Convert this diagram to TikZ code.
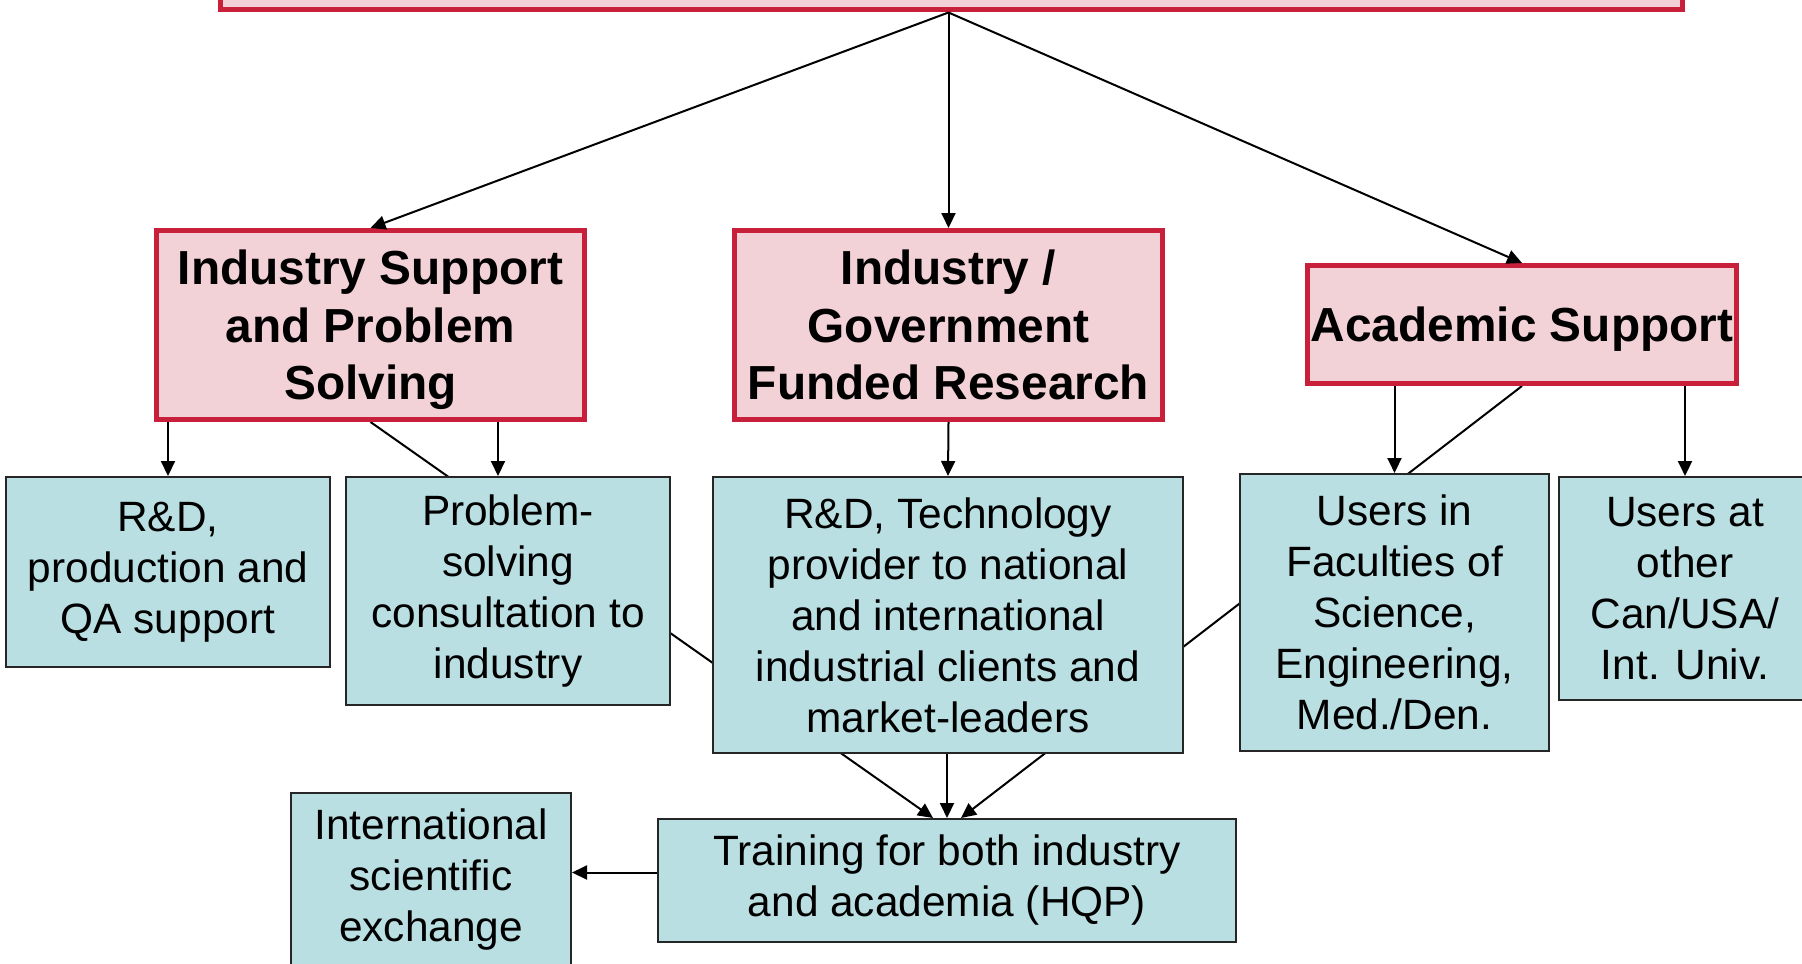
\documentclass[tikz,border=0pt]{standalone}
\usepackage{fontspec}
\setmainfont{Liberation Sans}
\usetikzlibrary{arrows.meta, backgrounds}

\definecolor{boxred}{RGB}{200,32,58}
\definecolor{boxpink}{RGB}{242,209,215}
\definecolor{boxblue}{RGB}{185,223,227}

\begin{document}
\begin{tikzpicture}[x=0.5pt, y=-0.5pt,
    >={Triangle[length=7.5pt, width=7pt]},
    head/.style={draw=boxred, line width=2.5pt, fill=boxpink, inner sep=0pt, align=center,
      text depth=0pt, font=\fontsize{23.9pt}{28.7pt}\selectfont\bfseries},
    leaf/.style={draw=black!85, line width=1pt, fill=boxblue, inner sep=0pt, align=center,
      font=\fontsize{21.2pt}{25.5pt}\selectfont},
    link/.style={line width=1pt}]
  \useasboundingbox (0,0) rectangle (1802,963);
  \clip (0,0) rectangle (1802,963);

  % top level, mostly above the frame
  \node [head, minimum width=731pt, minimum height=55pt] (top) at (951.5, -45) {};

  % second level
  \node [head, minimum width=214pt, minimum height=94.5pt] (isps) at (370.5, 325)
    {Industry Support\\ and Problem\\ Solving};
  \node [head, minimum width=214pt, minimum height=94.5pt] (igfr) at (948.5, 325)
    {Industry /\\ Government\\ Funded Research};
  \node [head, minimum width=214.5pt, minimum height=59pt] (acad) at (1522, 324.5)
    {Academic Support};

  % third level
  \node [leaf, minimum width=162pt, minimum height=95pt] (rdp) at (168, 572)
    {R\&D,\\ production and\\ QA support};
  \node [leaf, minimum width=162pt, minimum height=114pt] (ps) at (508, 591)
    {Problem-\\ solving\\ consultation to\\ industry};
  \node [leaf, minimum width=235pt, minimum height=138pt] (rdt) at (948, 615)
    {R\&D, Technology\\ provider to national\\ and international\\ industrial clients and\\ market-leaders};
  \node [leaf, minimum width=154.5pt, minimum height=138.5pt] (uf) at (1394.5, 612.5)
    {Users in\\ Faculties of\\ Science,\\ Engineering,\\ Med./Den.};
  \node [leaf, minimum width=126pt, minimum height=111.5pt] (uo) at (1685, 588.5)
    {Users at\\ other\\ Can/USA/\\ Int. Univ.};

  % bottom level
  \node [leaf, minimum width=140pt, minimum height=87pt] (is) at (431, 880)
    {International\\ scientific\\ exchange};
  \node [leaf, minimum width=289pt, minimum height=61.5pt] (tr) at (947, 880.5)
    {Training for both industry\\ and academia (HQP)};

  \coordinate (hub) at (igfr.north |- top.south);
  \coordinate (psin) at ([xshift=-5pt]ps.north);
  \coordinate (trin) at ([yshift=4pt]tr.west);

  \draw [->, link] (hub) -- (isps.north);
  \draw [->, link] (hub) -- (igfr.north);
  \draw [->, link] (hub) -- (acad.north);

  \draw [->, link] (isps.south -| rdp.north) -- (rdp.north);
  \draw [->, link] (isps.south -| psin) -- (psin);
  \draw [->, link] (igfr.south) -- (rdt.north);
  \draw [->, link] (acad.south -| uf.north) -- (uf.north);
  \draw [->, link] (acad.south -| uo.north) -- (uo.north);

  \draw [->, link] (rdt.south -| tr.north) -- (tr.north);
  \draw [->, link] (trin) -- (trin -| is.east);

  % long links run behind the boxes
  \begin{scope}[on background layer]
    \draw [->, link] (isps.south) -- ([xshift=-7pt]tr.north);
    \draw [->, link] (acad.south) -- ([xshift=7pt]tr.north);
  \end{scope}
\end{tikzpicture}
\end{document}
